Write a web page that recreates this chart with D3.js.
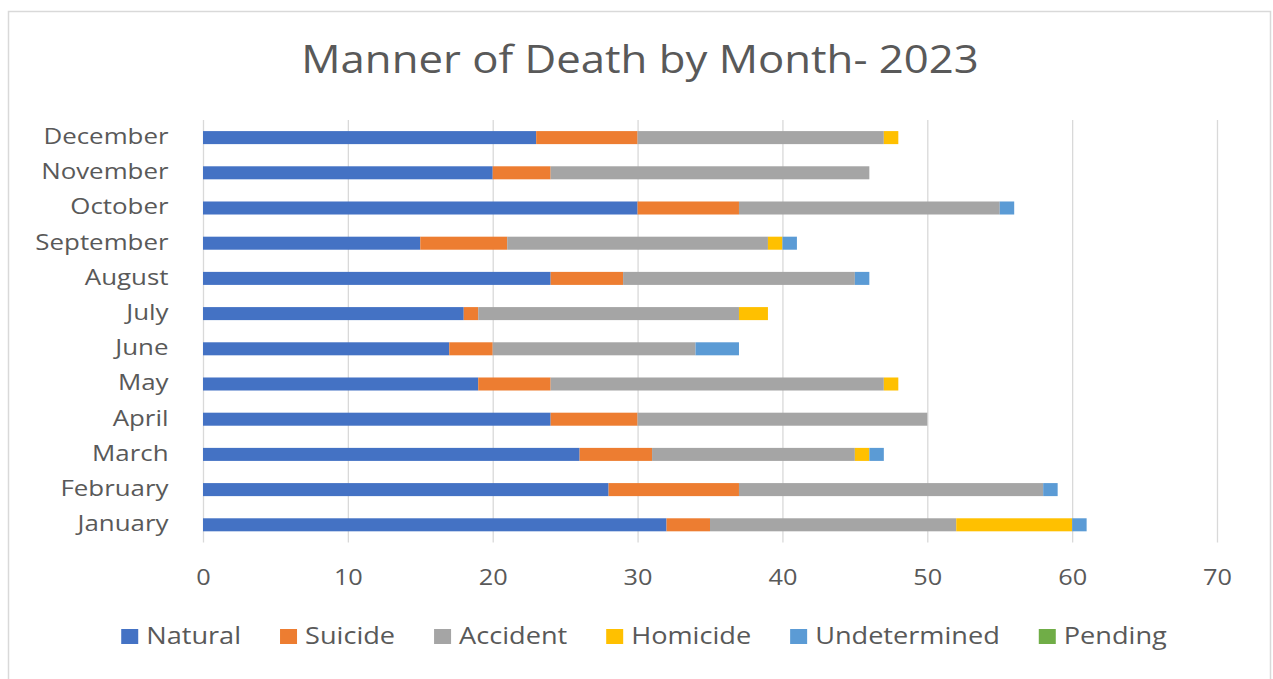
<!DOCTYPE html>
<html>
<head>
<meta charset="utf-8">
<script src="https://cdn.jsdelivr.net/npm/d3@7"></script>
<style>
  html, body { margin: 0; padding: 0; background: #ffffff; }
  svg { display: block; }
  text { font-family: "Open Sans", "Noto Sans", sans-serif; fill: #595959; }
</style>
</head>
<body>
<svg id="chart" width="1273" height="679"></svg>
<script>
// ---- data ----
const months = ["January","February","March","April","May","June","July","August","September","October","November","December"];
const seriesNames = ["Natural","Suicide","Accident","Homicide","Undetermined","Pending"];
const natural      = [32, 28, 26, 24, 19, 17, 18, 24, 15, 30, 20, 23];
const suicide      = [ 3,  9,  5,  6,  5,  3,  1,  5,  6,  7,  4,  7];
const accident     = [17, 21, 14, 20, 23, 14, 18, 16, 18, 18, 22, 17];
const homicide     = [ 8,  0,  1,  0,  1,  0,  2,  0,  1,  0,  0,  1];
const undetermined = [ 1,  1,  1,  0,  0,  3,  0,  1,  1,  1,  0,  0];
const pending      = [ 0,  0,  0,  0,  0,  0,  0,  0,  0,  0,  0,  0];
const xTicks = [0, 10, 20, 30, 40, 50, 60, 70];
const titleText = "Manner of Death by Month- 2023";

// ---- styling / layout ----
const colors = ["#4472C4", "#ED7D31", "#A5A5A5", "#FFC000", "#5B9BD5", "#70AD47"];
const SX = 1.15;            // horizontal stretch of the text in the reference
const LSX = 1.18;           // legend text stretch
const plot = { left: 203, right: 1217, top: 120, bottom: 542.4 };

const seriesValues = [natural, suicide, accident, homicide, undetermined, pending];
const rows = months.map((m, i) => {
  const r = { month: m };
  seriesNames.forEach((s, k) => r[s] = seriesValues[k][i]);
  return r;
});

const svg = d3.select("#chart");

// chart frame
svg.append("rect")
  .attr("x", 8.5).attr("y", 11.5)
  .attr("width", 1262).attr("height", 700)
  .attr("fill", "none").attr("stroke", "#D9D9D9").attr("stroke-width", 1.5);

const x = d3.scaleLinear().domain([0, 70]).range([plot.left, plot.right]);
const y = d3.scaleBand().domain(months.slice().reverse())
  .range([plot.top, plot.bottom]).paddingInner(0.63).paddingOuter(0.315);

// gridlines
const grid = svg.append("g")
  .attr("transform", `translate(0,${plot.bottom})`)
  .call(d3.axisBottom(x).tickValues(xTicks).tickSize(-(plot.bottom - plot.top)).tickFormat(""));
grid.select(".domain").remove();
grid.selectAll("line").attr("stroke", "#D9D9D9").attr("stroke-width", 1.3);

// stacked bars
const stack = d3.stack().keys(seriesNames);
const layers = stack(rows);
svg.append("g").selectAll("g")
  .data(layers)
  .join("g")
  .attr("fill", (d, i) => colors[i])
  .selectAll("rect")
  .data(d => d.filter(p => p[1] - p[0] > 0))
  .join("rect")
  .attr("x", d => x(d[0]))
  .attr("width", d => x(d[1]) - x(d[0]))
  .attr("y", d => y(d.data.month))
  .attr("height", y.bandwidth());

// x axis labels
const xAxis = svg.append("g")
  .attr("transform", `translate(0,${plot.bottom})`)
  .call(d3.axisBottom(x).tickValues(xTicks).tickSize(0).tickPadding(26.5));
xAxis.select(".domain").remove();
xAxis.selectAll("text")
  .attr("font-size", 22)
  .attr("fill", "#595959")
  .attr("font-family", '"Open Sans", sans-serif')
  .attr("transform", `scale(${SX},1)`);

// y axis labels
const yAxis = svg.append("g")
  .attr("transform", `translate(${plot.left},0)`)
  .call(d3.axisLeft(y).tickSize(0).tickPadding(30));
yAxis.select(".domain").remove();
yAxis.selectAll("text")
  .attr("font-size", 22.5)
  .attr("fill", "#595959")
  .attr("font-family", '"Open Sans", sans-serif')
  .attr("dy", "0.28em")
  .attr("transform", `scale(${SX},1)`);

// title
svg.append("g")
  .attr("transform", `translate(640,72.5) scale(${SX},1)`)
  .append("text")
  .attr("text-anchor", "middle")
  .attr("font-size", 38)
  .text(titleText);

// legend
const legend = svg.append("g");
const items = legend.selectAll("g.item")
  .data(seriesNames)
  .join("g").attr("class", "item");
items.append("rect")
  .attr("width", 17).attr("height", 15)
  .attr("y", -15)
  .attr("fill", (d, i) => colors[i]);
const texts = items.append("g")
  .attr("transform", `translate(25,0) scale(${LSX},1)`)
  .append("text")
  .attr("font-size", 23)
  .attr("y", 0)
  .text(d => d);
const widths = [];
texts.each(function () { widths.push(25 + this.getComputedTextLength() * LSX); });
const gap = 39;
const total = d3.sum(widths) + gap * (widths.length - 1);
let start = 644 - total / 2;
items.attr("transform", (d, i) => {
  const t = `translate(${start},644)`;
  start += widths[i] + gap;
  return t;
});
</script>
</body>
</html>
